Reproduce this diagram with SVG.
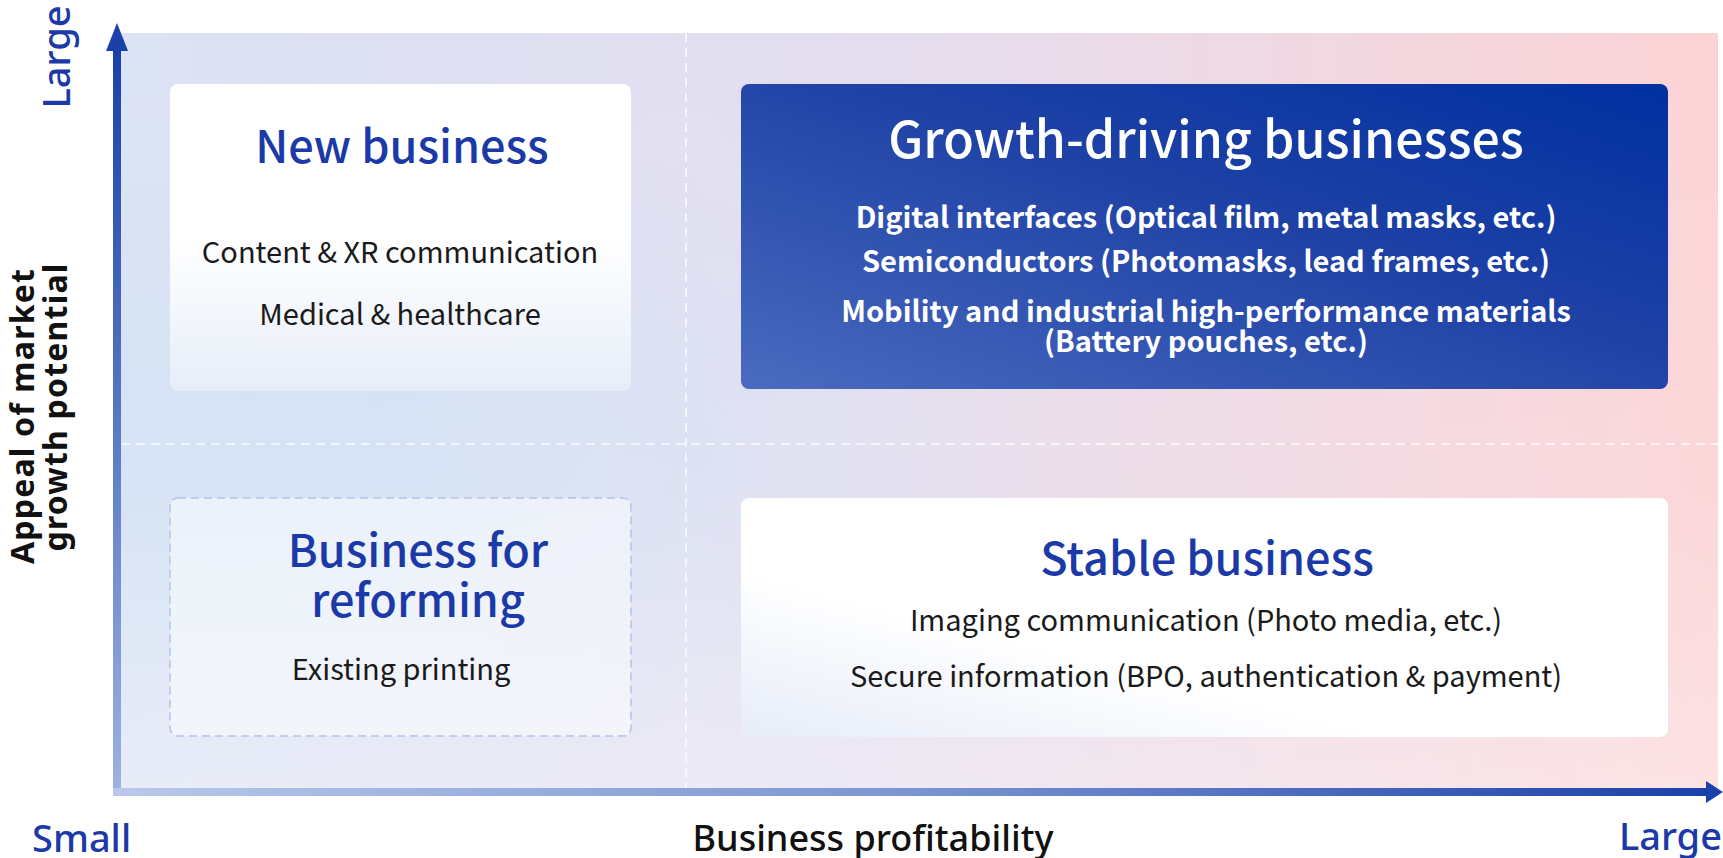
<svg xmlns="http://www.w3.org/2000/svg" width="1723" height="858" viewBox="0 0 1723 858">
<defs>
<linearGradient id="bgH" x1="0" y1="0" x2="1" y2="0">
<stop offset="0" stop-color="#dbe3f4"/>
<stop offset="0.45" stop-color="#e3def0"/>
<stop offset="1" stop-color="#fcd3d5"/>
</linearGradient>
<linearGradient id="bgV" x1="0" y1="0" x2="0" y2="1">
<stop offset="0" stop-color="#ffffff" stop-opacity="0"/>
<stop offset="0.6" stop-color="#ffffff" stop-opacity="0.1"/>
<stop offset="1" stop-color="#ffffff" stop-opacity="0.35"/>
</linearGradient>
<radialGradient id="bgBlue" cx="0.12" cy="0.55" r="0.45">
<stop offset="0" stop-color="#cfe0f4" stop-opacity="0.9"/>
<stop offset="1" stop-color="#cfe0f4" stop-opacity="0"/>
</radialGradient>
<linearGradient id="growth" x1="0" y1="1" x2="1" y2="0">
<stop offset="0" stop-color="#4a6bbf"/>
<stop offset="0.55" stop-color="#1f42a6"/>
<stop offset="1" stop-color="#0030a0"/>
</linearGradient>
<linearGradient id="newFill" x1="0" y1="0" x2="0" y2="1">
<stop offset="0" stop-color="#ffffff"/>
<stop offset="0.5" stop-color="#ffffff"/>
<stop offset="1" stop-color="#e7edf8"/>
</linearGradient>
<linearGradient id="stableFill" x1="0" y1="1" x2="1" y2="0">
<stop offset="0" stop-color="#e6ecf8"/>
<stop offset="0.35" stop-color="#ffffff"/>
<stop offset="1" stop-color="#ffffff"/>
</linearGradient>
<linearGradient id="yAxis" x1="0" y1="1" x2="0" y2="0">
<stop offset="0" stop-color="#9fb3e0"/>
<stop offset="0.5" stop-color="#5a78c4"/>
<stop offset="1" stop-color="#1a40aa"/>
</linearGradient>
<linearGradient id="xAxis" x1="0" y1="0" x2="1" y2="0">
<stop offset="0" stop-color="#b9c8ea"/>
<stop offset="0.5" stop-color="#7b95d2"/>
<stop offset="1" stop-color="#1a40aa"/>
</linearGradient>
</defs>
<style>
.ttl{font-family:"Noto Sans CJK JP","Noto Sans",sans-serif;font-weight:500;font-size:45px;fill:#1b3aa8;text-anchor:middle}
.body{font-family:"Noto Sans CJK JP","Noto Sans",sans-serif;font-weight:400;font-size:29px;fill:#1a1a1a;text-anchor:middle}
.gbody{font-family:"Noto Sans CJK JP","Noto Sans",sans-serif;font-weight:700;font-size:29px;fill:#ffffff;text-anchor:middle}
.axl{font-family:"Noto Sans",sans-serif;font-weight:500;font-size:38px;fill:#1b3aa8}
.axt{font-family:"Noto Sans",sans-serif;font-weight:700;font-size:32px;letter-spacing:1.2px;fill:#111111;text-anchor:middle}
.grid{stroke:#ffffff;stroke-width:1.5;stroke-dasharray:9 6;opacity:0.9}
</style>
<g id="background">
<rect x="113" y="33" width="1605" height="763" fill="url(#bgH)"/>
<rect x="113" y="33" width="1605" height="763" fill="url(#bgBlue)"/>
<rect x="113" y="33" width="1605" height="763" fill="url(#bgV)"/>
<line class="grid" x1="686" y1="33" x2="686" y2="788"/>
<line class="grid" x1="121" y1="444" x2="1718" y2="444"/>
</g>
<g id="new-business">
<rect x="170" y="84" width="461" height="307" rx="8" fill="url(#newFill)"/>
<text class="ttl" x="402" y="163">New business</text>
<text class="body" x="400" y="263">Content &amp; XR communication</text>
<text class="body" x="400" y="325">Medical &amp; healthcare</text>
</g>
<g id="growth-driving">
<rect x="741" y="84" width="927" height="305" rx="8" fill="url(#growth)"/>
<text class="ttl" x="1206" y="158" style="fill:#ffffff;font-size:50px">Growth-driving businesses</text>
<text class="gbody" x="1206" y="228">Digital interfaces (Optical film, metal masks, etc.)</text>
<text class="gbody" x="1206" y="272">Semiconductors (Photomasks, lead frames, etc.)</text>
<text class="gbody" x="1206" y="322">Mobility and industrial high-performance materials</text>
<text class="gbody" x="1206" y="352">(Battery pouches, etc.)</text>
</g>
<g id="reforming">
<rect x="170" y="498" width="461" height="238" rx="8" fill="#ffffff" fill-opacity="0.5" stroke="#b3c3e6" stroke-width="1.5" stroke-dasharray="8 5"/>
<text class="ttl" x="418" y="567">Business for</text>
<text class="ttl" x="418" y="617">reforming</text>
<text class="body" x="401" y="680">Existing printing</text>
</g>
<g id="stable">
<rect x="741" y="498" width="927" height="239" rx="8" fill="url(#stableFill)"/>
<text class="ttl" x="1207" y="575">Stable business</text>
<text class="body" x="1206" y="631">Imaging communication (Photo media, etc.)</text>
<text class="body" x="1206" y="687">Secure information (BPO, authentication &amp; payment)</text>
</g>
<g id="connectors">
<rect x="113" y="50" width="8" height="746" fill="url(#yAxis)"/>
<polygon points="117,23 106,51 128,51" fill="#1a40aa"/>
<rect x="113" y="788" width="1596" height="8" fill="url(#xAxis)"/>
<polygon points="1723,792 1706,781 1706,803" fill="#1a40aa"/>
</g>
<g id="axis-labels">
<text class="axl" transform="translate(70,57) rotate(-90)" text-anchor="middle">Large</text>
<text class="axl" x="32" y="852">Small</text>
<text class="axl" x="1722" y="850" text-anchor="end">Large</text>
<text class="axt" transform="translate(34,416) rotate(-90)">Appeal of market</text>
<text class="axt" transform="translate(67,407) rotate(-90)">growth potential</text>
<text class="axt" x="873" y="851" style="font-size:36px;font-weight:500;letter-spacing:0">Business profitability</text>
</g>
</svg>
